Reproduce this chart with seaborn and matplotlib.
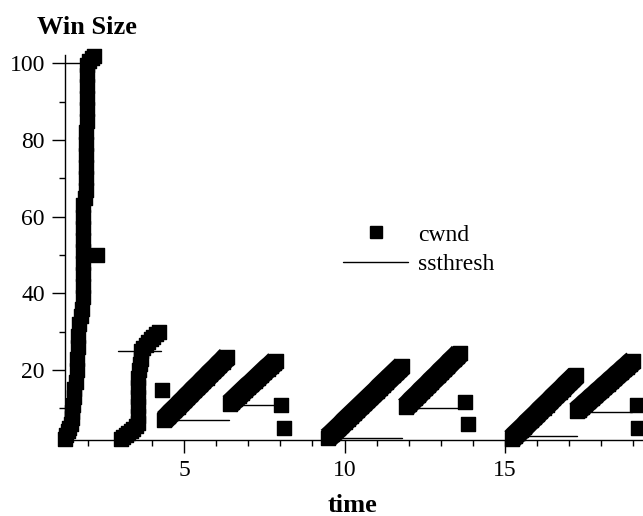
import numpy as np
import pandas as pd
import matplotlib
matplotlib.use("Agg")
import matplotlib.pyplot as plt
from matplotlib.lines import Line2D
from matplotlib.ticker import MultipleLocator
import seaborn as sns

# ---- data ----
p1_time = [1.29, 1.33, 1.38, 1.43, 1.47, 1.50, 1.52, 1.54, 1.56, 1.58, 1.63, 1.65, 1.67, 1.69, 1.71,
           1.74, 1.80, 1.83, 1.84, 1.84, 1.84, 1.84, 1.84, 1.84, 1.84, 1.84, 1.85, 1.90, 1.93, 1.94,
           1.95, 1.95, 1.95, 1.95, 1.96, 1.96, 1.96, 1.96, 1.97, 1.98, 2.05, 2.12, 2.20]
p1_cwnd = [2.0, 3.0, 4.0, 5.0, 6.0, 7.5, 9.0, 11, 13, 15, 17, 20, 23, 26, 29,
           32, 34, 36, 39, 42, 45, 48, 51, 54, 57, 60, 63, 65, 67, 70,
           73, 76, 79, 82, 85, 88, 91, 94, 97, 99.5, 100.6, 101.3, 102]

p2_time = [3.02, 3.10, 3.18, 3.26, 3.34, 3.42, 3.50, 3.56, 3.58, 3.58, 3.58, 3.58, 3.58, 3.60,
           3.64, 3.66, 3.67, 3.72, 3.80, 3.88, 3.96, 4.04, 4.12, 4.21]
p2_cwnd = [2.0, 2.5, 3.0, 3.6, 4.1, 4.7, 5.3, 6.2, 8.0, 10.5, 13.0, 15.5, 18.0, 20.0,
           21.5, 23.0, 25.0, 25.8, 26.5, 27.3, 28.0, 28.7, 29.3, 30.0]

p3_time = [4.39, 4.5, 4.6, 4.7, 4.8, 4.9, 5.0, 5.1, 5.2, 5.3, 5.4, 5.5, 5.6, 5.7, 5.8, 5.9,
           6.0, 6.1, 6.2, 6.3, 6.34]
p3_cwnd = [7.0, 7.9, 8.8, 9.6, 10.4, 11.3, 12.1, 13.0, 13.8, 14.7, 15.5, 16.3, 17.2, 18.0, 18.9,
           19.7, 20.5, 21.4, 22.2, 23.1, 23.4]

p4_time = [6.42, 6.5, 6.6, 6.7, 6.8, 6.9, 7.0, 7.1, 7.2, 7.3, 7.4, 7.5, 7.6, 7.7, 7.8, 7.86]
p4_cwnd = [11.1, 11.7, 12.5, 13.3, 14.1, 14.9, 15.7, 16.4, 17.2, 18.0, 18.8, 19.6, 20.4, 21.1,
           21.9, 22.4]

p5_time = [9.48, 9.6, 9.7, 9.8, 9.9, 10.0, 10.1, 10.2, 10.3, 10.4, 10.5, 10.6, 10.7, 10.8, 10.9,
           11.0, 11.1, 11.2, 11.3, 11.4, 11.5, 11.6, 11.7, 11.8]
p5_cwnd = [2.3, 3.2, 4.0, 4.8, 5.6, 6.5, 7.3, 8.1, 8.9, 9.7, 10.5, 11.3, 12.1, 12.9, 13.7,
           14.5, 15.4, 16.2, 17.0, 17.8, 18.6, 19.4, 20.2, 21.0]

p6_time = [11.9, 12.0, 12.1, 12.2, 12.3, 12.4, 12.5, 12.6, 12.7, 12.8, 12.9, 13.0, 13.1, 13.2,
           13.3, 13.4, 13.5, 13.59]
p6_cwnd = [10.3, 11.1, 12.0, 12.8, 13.6, 14.5, 15.3, 16.1, 17.0, 17.8, 18.6, 19.5, 20.3, 21.1,
           22.0, 22.8, 23.6, 24.4]

p7_time = [15.22, 15.3, 15.4, 15.5, 15.6, 15.7, 15.8, 15.9, 16.0, 16.1, 16.2, 16.3, 16.4, 16.5,
           16.6, 16.7, 16.8, 16.9, 17.0, 17.1, 17.22]
p7_cwnd = [2.1, 2.8, 3.6, 4.4, 5.2, 6.1, 6.9, 7.7, 8.5, 9.4, 10.2, 11.0, 11.8, 12.7,
           13.5, 14.3, 15.1, 16.0, 16.8, 17.6, 18.6]

p8_time = [17.24, 17.3, 17.4, 17.5, 17.6, 17.7, 17.8, 17.9, 18.0, 18.1, 18.2, 18.3, 18.4, 18.5,
           18.6, 18.7, 18.8, 18.9, 19.0]
p8_cwnd = [9.2, 9.7, 10.4, 11.2, 11.9, 12.7, 13.4, 14.2, 14.9, 15.7, 16.4, 17.2, 17.9, 18.7,
           19.4, 20.2, 20.9, 21.7, 22.4]

drop_time = [2.29, 4.31, 8.03, 8.11, 13.75, 13.85, 19.10, 19.15]
drop_cwnd = [50.0, 14.9, 11.0, 4.9, 11.7, 6.0, 11.0, 5.0]

ss_start = [1.29, 2.95, 4.39, 6.42, 9.48, 11.9, 15.22, 17.24]
ss_end = [2.20, 4.28, 6.41, 8.00, 11.8, 13.7, 17.23, 18.95]
ss_value = [100, 25, 7.0, 10.9, 2.2, 10.0, 2.9, 9.0]

x_ticks = [5, 10, 15]
y_ticks = [20, 40, 60, 80, 100]

# ---- tables ----
phases = [(p1_time, p1_cwnd), (p2_time, p2_cwnd), (p3_time, p3_cwnd), (p4_time, p4_cwnd),
          (p5_time, p5_cwnd), (p6_time, p6_cwnd), (p7_time, p7_cwnd), (p8_time, p8_cwnd)]
rows = []
for k, (tt, ww) in enumerate(phases):
    for t, w in zip(tt, ww):
        rows.append({"phase": k + 1, "time": t, "cwnd": w})
for t, w in zip(drop_time, drop_cwnd):
    rows.append({"phase": 0, "time": t, "cwnd": w})
cwnd_df = pd.DataFrame(rows)
ramp_df = cwnd_df[cwnd_df["phase"] >= 3]   # straight congestion-avoidance ramps

ss_rows = []
for i, (a, b, v) in enumerate(zip(ss_start, ss_end, ss_value)):
    ss_rows.append({"seg": i, "time": a, "ssthresh": v})
    ss_rows.append({"seg": i, "time": b, "ssthresh": v})
ss_df = pd.DataFrame(ss_rows)

# ---- style ----
sns.set_style("ticks")
plt.rcParams["font.family"] = ["Liberation Serif", "DejaVu Serif"]
plt.rcParams["font.size"] = 17
for key in ("text.color", "axes.labelcolor", "xtick.color", "ytick.color", "axes.edgecolor"):
    plt.rcParams[key] = "black"

fig = plt.figure(figsize=(6.43, 5.16), dpi=100)
ax = fig.add_axes([65 / 643, (516 - 440) / 516, (643 - 65) / 643, (440 - 55) / 516])

sns.lineplot(data=ss_df, x="time", y="ssthresh", units="seg", estimator=None, sort=False,
             color="black", linewidth=1.0, ax=ax, zorder=2, legend=False)
# dense cwnd samples: the thick stroke under the ramps fills the gaps between squares
sns.lineplot(data=ramp_df, x="time", y="cwnd", units="phase", estimator=None, sort=False,
             color="black", linewidth=15.5, solid_capstyle="butt", ax=ax, zorder=3,
             legend=False, clip_on=False)
sns.scatterplot(data=cwnd_df, x="time", y="cwnd", marker="s", s=100, color="black",
                edgecolor="black", linewidth=1.0, ax=ax, zorder=4, clip_on=False, legend=False)

ax.set_xlim(1.29, 19.3)
ax.set_ylim(1.75, 102.2)
ax.set_xticks(x_ticks)
ax.set_yticks(y_ticks)
ax.xaxis.set_minor_locator(MultipleLocator(1))
ax.yaxis.set_minor_locator(MultipleLocator(10))
ax.tick_params(which="major", length=9.5, width=1.0, labelsize=17, pad=5, color="black",
               labelcolor="black")
ax.tick_params(which="minor", length=4.5, width=1.0, color="black")
for side in ("top", "right"):
    ax.spines[side].set_visible(False)
for side in ("left", "bottom"):
    ax.spines[side].set_linewidth(1.0)
    ax.spines[side].set_color("black")

ax.set_xlabel("time", fontsize=19, fontweight="bold", color="black")
ax.set_ylabel("Win Size", fontsize=19, fontweight="bold", rotation=0, color="black")
ax.xaxis.set_label_coords(0.498, -0.169)
ax.xaxis.label.set_va("center")
ax.yaxis.set_label_coords(0.038, 1.072)
ax.yaxis.label.set_va("center")
ax.yaxis.label.set_ha("center")

handles = [Line2D([], [], marker="s", linestyle="none", color="black", markersize=8.5),
           Line2D([], [], color="black", linewidth=1.0)]
ax.legend(handles, ["cwnd", "ssthresh"], loc="upper left", bbox_to_anchor=(343 / 643, 1 - 224 / 516),
          bbox_transform=fig.transFigure, frameon=False, fontsize=17, handlelength=2.76,
          handletextpad=0.42, labelspacing=0.33, borderpad=0, borderaxespad=0,
          labelcolor="black")

fig.savefig("out.png", dpi=100)
